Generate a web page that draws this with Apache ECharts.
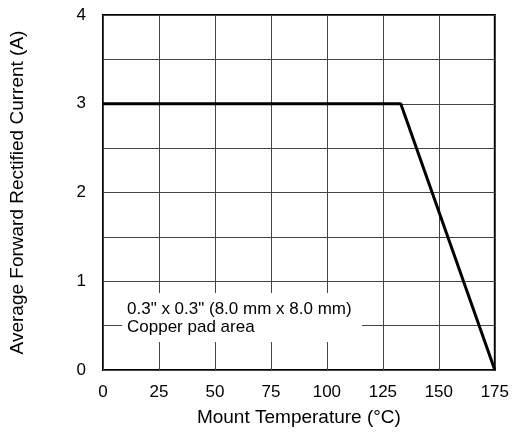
<!DOCTYPE html>
<html><head><meta charset="utf-8">
<script src="https://cdn.jsdelivr.net/npm/echarts@6/dist/echarts.min.js"></script>
<style>html,body{margin:0;padding:0;background:#fff}#c{width:512px;height:432px}</style>
</head><body><div id="c"></div>
<script>
const temperature = [0, 133, 175];
const current = [3, 3, 0];
const xTicks = [0, 25, 50, 75, 100, 125, 150, 175];
const yTicks = [0, 1, 2, 3, 4];
const noteLines = ['0.3" x 0.3" (8.0 mm x 8.0 mm)', 'Copper pad area'];

const chart = echarts.init(document.getElementById('c'));
const font = 'Arial, "Liberation Sans", sans-serif';
chart.setOption({
  animation: false,
  grid: {left: 103, right: 15, top: 15, bottom: 62, show: true, borderColor: '#000', borderWidth: 2, backgroundColor: 'transparent'},
  xAxis: {
    type: 'value', min: 0, max: 175, interval: 25,
    name: 'Mount Temperature (°C)', nameLocation: 'middle', nameGap: 38,
    nameTextStyle: {fontFamily: font, fontSize: 19, color: '#000'},
    axisLine: {show: false}, axisTick: {show: false},
    axisLabel: {fontFamily: font, fontSize: 17, color: '#000', margin: 14},
    splitLine: {show: true, lineStyle: {color: '#444', width: 1}}
  },
  yAxis: {
    type: 'value', min: 0, max: 4, interval: 0.5,
    name: 'Average Forward Rectified Current (A)', nameLocation: 'middle', nameGap: 76,
    nameTextStyle: {fontFamily: font, fontSize: 19, color: '#000'},
    axisLine: {show: false}, axisTick: {show: false},
    axisLabel: {fontFamily: font, fontSize: 17, color: '#000', margin: 17,
      formatter: v => (yTicks.includes(v) ? String(v) : '')},
    splitLine: {show: true, lineStyle: {color: '#444', width: 1}}
  },
  series: [{
    type: 'line', data: temperature.map((t, i) => [t, current[i]]),
    showSymbol: false, lineStyle: {color: '#000', width: 3}, z: 5
  }],
  graphic: [
    {type: 'rect', shape: {x: 122, y: 293, width: 240, height: 49}, style: {fill: '#fff'}, z: 10},
    {type: 'text', x: 127, y: 300, style: {text: noteLines.join('\n'), fontFamily: font, fontSize: 17, fill: '#000', lineHeight: 18}, z: 11}
  ]
});
</script></body></html>
